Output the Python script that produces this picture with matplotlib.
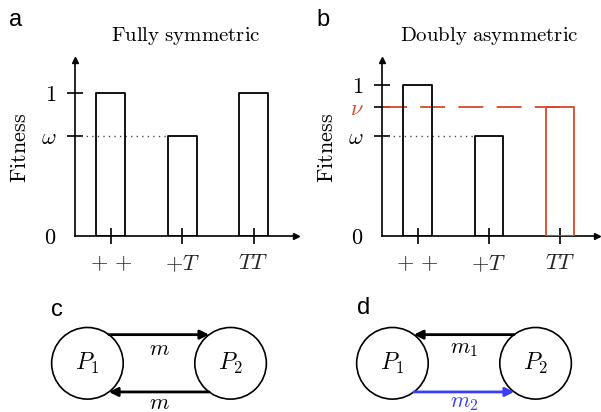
#----------------------------------------------------------------------------------------------------------------------#
# Imports
#----------------------------------------------------------------------------------------------------------------------#
import matplotlib
matplotlib.use('Agg')
import matplotlib.pyplot as plt
from matplotlib.patches import Circle, FancyArrowPatch

#----------------------------------------------------------------------------------------------------------------------#
# Data
#----------------------------------------------------------------------------------------------------------------------#
genotypes = [r'$+\,+$', r'$+T$', r'$TT$']
fit_sym = [1.0, 0.70, 1.0]            # fully symmetric: 1, omega, 1
omega_a = 0.70
fit_asym = [1.0, 0.66, 0.855]         # doubly asymmetric: 1, omega, nu
omega_b = 0.66
nu_b = 0.855

node_x = [0.0, 1.0]
node_names = [r'$P_1$', r'$P_2$']

red = '#d9472b'
blue = '#3c3cf2'

W, H = 601, 412
plt.rcParams['mathtext.fontset'] = 'cm'
plt.rcParams['lines.scale_dashes'] = False

fig = plt.figure(figsize=(W / 100, H / 100), dpi=100)


def px_axes(left, top, right, bottom):
    # axes placed with pixel edges (from top-left corner of figure)
    return fig.add_axes([left / W, 1 - bottom / H, (right - left) / W, (bottom - top) / H])


#----------------------------------------------------------------------------------------------------------------------#
# Bar panels (a, b)
#----------------------------------------------------------------------------------------------------------------------#
def fitness_panel(ax, heights, colors, yticks, ylabels, ylabel_colors, ytop, xright, title):
    xs = range(len(heights))
    ax.bar(xs, heights, width=0.4, fill=False, edgecolor=colors, linewidth=1.3, joinstyle='round', zorder=3)
    ax.set_xlim(-0.5, xright)
    ax.set_ylim(0, ytop)
    for s in ['top', 'right']:
        ax.spines[s].set_visible(False)
    for s in ['left', 'bottom']:
        ax.spines[s].set_linewidth(1.2)
    # axis arrow heads
    ax.plot(1, 0, '>k', ms=4.5, transform=ax.transAxes, clip_on=False)
    ax.plot(0, 1, '^k', ms=4.5, transform=ax.transAxes, clip_on=False)
    ax.set_xticks(list(xs))
    ax.set_xticklabels(genotypes, fontsize=16, color='0.15')
    ax.tick_params(axis='x', direction='inout', length=11, width=1.2, pad=7)
    ax.set_yticks(yticks)
    ax.set_yticklabels(ylabels, fontsize=16)
    for lab, c in zip(ax.get_yticklabels(), ylabel_colors):
        lab.set_color(c)
    ax.tick_params(axis='y', direction='inout', length=11, width=1.2, pad=8)
    ax.yaxis.get_major_ticks()[0].tick1line.set_visible(False)
    ax.set_ylabel(r'$\mathrm{Fitness}$', fontsize=16, labelpad=8)
    ax.set_title(title, fontsize=15, pad=14)


ax_a = px_axes(75, 60, 296, 236)
fitness_panel(ax_a, fit_sym, ['k', 'k', 'k'], [0, omega_a, 1], ['$0$', r'$\omega$', '$1$'],
              ['k', 'k', 'k'], 1.23, 2.59, r'$\mathrm{Fully\ symmetric}$')
ax_a.plot([-0.5, 0.8], [omega_a, omega_a], color='0.3', lw=1.0, linestyle=(0, (1, 3)), zorder=2)

ax_b = px_axes(382, 60, 597, 236)
fitness_panel(ax_b, fit_asym, ['k', 'k', red], [0, omega_b, nu_b, 1], ['$0$', r'$\omega$', r'$\nu$', '$1$'],
              ['k', 'k', red, 'k'], 1.166, 2.52, r'$\mathrm{Doubly\ asymmetric}$')
ax_b.plot([-0.5, 0.8], [omega_b, omega_b], color='0.3', lw=1.0, linestyle=(0, (1, 3)), zorder=2)
ax_b.plot([-0.5, 2.2], [nu_b, nu_b], color=red, lw=1.3, linestyle=(0, (18, 9.5)), zorder=2)

#----------------------------------------------------------------------------------------------------------------------#
# Migration diagrams (c, d)
#----------------------------------------------------------------------------------------------------------------------#
r_node = 0.25
dy = 0.2


def migration_panel(ax, arrows):
    ax.set_xlim(-0.45, 1.45)
    ax.set_ylim(-0.34, 0.4)
    ax.axis('off')
    for x, name in zip(node_x, node_names):
        ax.add_patch(Circle((x, 0), r_node, fill=False, lw=1.2, ec='k'))
        ax.text(x, 0, name, fontsize=17, ha='center', va='center')
    dx = (r_node ** 2 - dy ** 2) ** 0.5
    for y, direction, label, color, ly in arrows:
        if direction > 0:
            start, end = (node_x[0] + dx, y), (node_x[1] - dx, y)
        else:
            start, end = (node_x[1] - dx, y), (node_x[0] + dx, y)
        ax.add_patch(FancyArrowPatch(start, end, arrowstyle='-|>', mutation_scale=13, lw=2.0,
                                     color=color, shrinkA=0, shrinkB=0))
        ax.text(0.5, ly, label, fontsize=16, ha='center', va='center', color=color)


ax_c = px_axes(23, 306, 295, 412)
migration_panel(ax_c, [(dy, 1, r'$m$', 'k', 0.1), (-dy, -1, r'$m$', 'k', -0.275)])

ax_d = px_axes(328, 306, 600, 412)
migration_panel(ax_d, [(dy, -1, r'$m_1$', 'k', 0.1), (-dy, 1, r'$m_2$', blue, -0.275)])

#----------------------------------------------------------------------------------------------------------------------#
# Panel letters
#----------------------------------------------------------------------------------------------------------------------#
for lab, x, y in [('a', 9, 20), ('b', 316, 20), ('c', 51, 310), ('d', 357, 308)]:
    fig.text(x / W, 1 - y / H, lab, fontsize=17, family='Liberation Sans', va='center', ha='left')

fig.savefig('out.png', dpi=100)
